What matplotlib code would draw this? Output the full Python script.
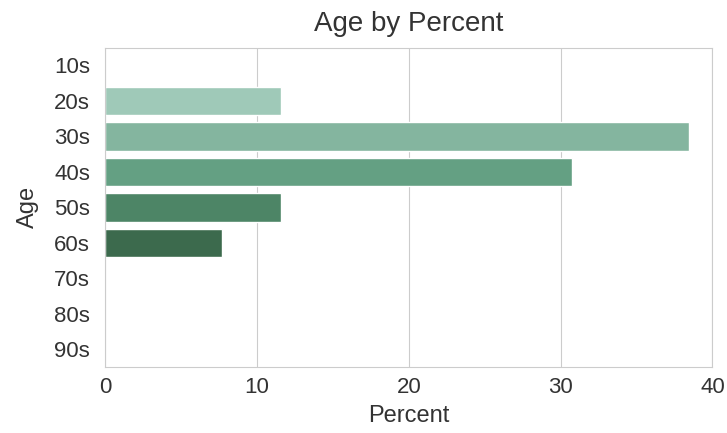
import matplotlib
matplotlib.use("Agg")
import matplotlib.pyplot as plt
import seaborn as sns

ages = ["10s", "20s", "30s", "40s", "50s", "60s", "70s", "80s", "90s"]
percents = [0, 11.54, 38.46, 30.77, 11.54, 7.69, 0, 0, 0]

# muted green ramp, light to dark
bar_colors = ["#bcdccf", "#9fc9b8", "#84b59f", "#64a083", "#4d8566",
              "#3c6a4d", "#33553f", "#2e4535", "#2a3a2e"]

sns.set_style("whitegrid")
plt.rcParams["font.family"] = ["Liberation Sans", "DejaVu Sans"]

fig, ax = plt.subplots(figsize=(7.27, 4.33), dpi=100)
ax.barh(range(len(ages)), percents, height=0.8, color=bar_colors)
ax.set_yticks(range(len(ages)))
ax.set_yticklabels(ages)
ax.set_ylim(len(ages) - 0.5, -0.5)
ax.set_xlim(0, 40)
ax.set_xticks([0, 10, 20, 30, 40])
ax.grid(axis="y", visible=False)
ax.tick_params(labelsize=16, length=0, labelcolor="#333333")
ax.tick_params(axis="y", pad=11)
ax.tick_params(axis="x", pad=7)
ax.set_xlabel("Percent", fontsize=17, color="#333333", labelpad=5)
ax.set_ylabel("Age", fontsize=17, color="#333333", labelpad=11)
ax.set_title("Age by Percent", fontsize=20, color="#333333", pad=12)
for s in ax.spines.values():
    s.set_color("#cccccc")

fig.subplots_adjust(left=0.145, right=0.98, top=0.89, bottom=0.152)
fig.savefig("out.png", dpi=100)
